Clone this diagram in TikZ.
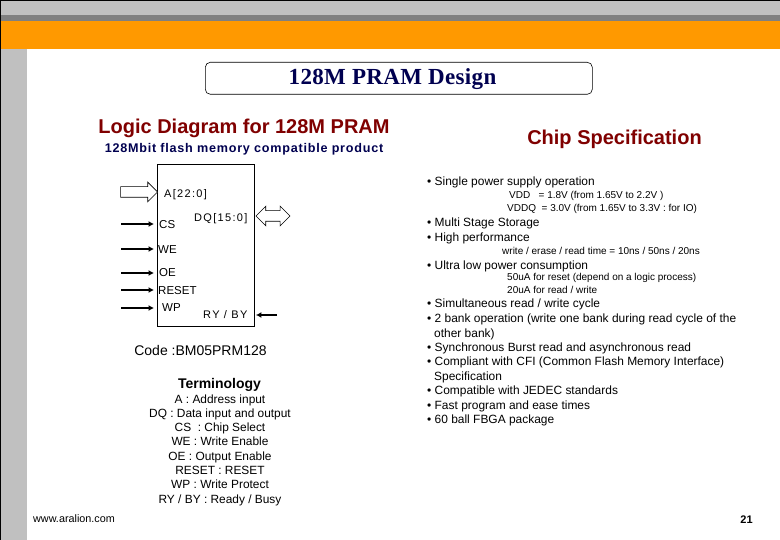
\documentclass[tikz,border=0pt]{standalone}
\usepackage{fontspec}
\setmainfont{Liberation Sans}
\newfontfamily\titlefont[LetterSpace=1.5]{Liberation Serif}
\newfontfamily\pinfont[LetterSpace=12]{Liberation Sans}
\newfontfamily\subfont[LetterSpace=6]{Liberation Sans}
\usetikzlibrary{arrows.meta,shapes.arrows}
\definecolor{bandgray}{HTML}{C0C0C0}
\definecolor{darkband}{HTML}{808080}
\definecolor{bandorange}{HTML}{FF9900}
\definecolor{headred}{HTML}{800000}
\definecolor{headnavy}{HTML}{000050}
\newcommand{\fs}[1]{\fontsize{#1}{#1}\selectfont}
\tikzset{
	pin/.style={inner sep=0pt,anchor=base west,font=\pinfont\fs{11}},
	ctlpin/.style={inner sep=0pt,anchor=base west,font=\fs{11.5}},
	sigarrow/.style={line width=1.4pt,-{Latex[length=5.5pt,width=6pt]}},
	hollowarrow/.style={draw,fill=white,line width=0.6pt,inner xsep=0pt,inner ysep=5pt},
	bigline/.style={inner sep=0pt,anchor=base west,yshift=-0.7pt,font=\fs{11.95}},
	smallline/.style={inner sep=0pt,anchor=base west,font=\fs{10}},
	termline/.style={inner sep=0pt,anchor=base,font=\fs{11.9}},
	heading/.style={inner sep=0pt,anchor=base,text=headred,font=\bfseries\fs{20}}
}
\begin{document}
\begin{tikzpicture}[x=1pt,y=-1pt]
	\useasboundingbox (0,0) rectangle (780,540);
	% slide frame
	\fill[white] (0,0) rectangle (780,540);
	\fill[bandgray] (0,0) rectangle (780,15);
	\fill[darkband] (0,15) rectangle (780,21);
	\fill[bandorange] (0,21) rectangle (780,49);
	\fill[bandgray] (0,49) rectangle (27,540);
	\fill[black] (0,0) rectangle (780,1);
	\fill[black] (0,0) rectangle (1,540);
	% title
	\node[draw,rounded corners=5pt,line width=0.6pt,minimum width=387pt,minimum height=32pt,anchor=north west] (titlebox) at (205,62) {};
	\node[inner sep=0pt,anchor=base,text=headnavy,font=\titlefont\bfseries\fs{23}] (title) at (392.5,85) {128M PRAM Design};
	% headings
	\node[heading] (logichead) at (244,134) {Logic Diagram for 128M PRAM};
	\node[inner sep=0pt,anchor=base,text=headnavy,font=\subfont\bfseries\fs{12.6}] (logicsub) at (244,153) {128Mbit flash memory compatible product};
	\node[heading] (spechead) at (614.5,144.5) {Chip Specification};
	% chip
	\node[draw,line width=0.9pt,minimum width=97pt,minimum height=162pt,anchor=north west] (chip) at (157,164) {};
	\node[pin] (pina) at (164,198) {A[22:0]};
	\node[pin] (pindq) at (194,222) {DQ[15:0]};
	\node[ctlpin] (pincs) at (159,229) {CS};
	\node[ctlpin] (pinwe) at (158,254) {WE};
	\node[ctlpin] (pinoe) at (159,277) {OE};
	\node[ctlpin] (pinreset) at (158,295) {RESET};
	\node[ctlpin] (pinwp) at (162,312) {WP};
	\node[pin] (pinry) at (203,319) {RY / BY};
	% bus arrows
	\node[single arrow,hollowarrow,single arrow head extend=4.5pt,minimum height=37pt,anchor=east] (busa) at (158,192) {};
	\node[double arrow,hollowarrow,double arrow head extend=4.5pt,minimum height=34pt,anchor=west] (busdq) at (255.5,216) {};
	% signal arrows
	\coordinate (csin) at (121,224);
	\coordinate (wein) at (121,249);
	\coordinate (oein) at (121,273);
	\coordinate (resetin) at (121,290);
	\coordinate (wpin) at (121,308);
	\coordinate (ryin) at (277,315);
	\draw[sigarrow] (csin) -- ([xshift=-3pt]chip.west |- csin);
	\draw[sigarrow] (wein) -- ([xshift=-3pt]chip.west |- wein);
	\draw[sigarrow] (oein) -- ([xshift=-3pt]chip.west |- oein);
	\draw[sigarrow] (resetin) -- ([xshift=-3pt]chip.west |- resetin);
	\draw[sigarrow] (wpin) -- ([xshift=-3pt]chip.west |- wpin);
	\draw[sigarrow] (ryin) -- ([xshift=1pt]chip.east |- ryin);
	% code and terminology
	\node[termline,font=\fs{14}] (code) at (200.5,355.5) {Code :BM05PRM128};
	\node[termline,font=\bfseries\fs{14}] (termhead) at (219.5,388.5) {Terminology};
	\node[termline] (terma) at (220,403.5) {A : Address input};
	\node[termline] (termdq) at (220,417.5) {DQ : Data input and output};
	\node[termline] (termcs) at (220,431.5) {CS\ \ : Chip Select};
	\node[termline] (termwe) at (220,445.5) {WE : Write Enable};
	\node[termline] (termoe) at (220,460.5) {OE : Output Enable};
	\node[termline] (termreset) at (220,474.5) {RESET : RESET};
	\node[termline] (termwp) at (220,488.5) {WP : Write Protect};
	\node[termline] (termry) at (220,503.5) {RY / BY : Ready / Busy};
	% specification list
	\node[bigline] (spa) at (427,185) {• Single power supply operation};
	\node[smallline] (spb) at (509,199) {VDD\ \ \ = 1.8V (from 1.65V to 2.2V )};
	\node[smallline] (spc) at (507,212) {VDDQ\ \ = 3.0V (from 1.65V to 3.3V : for IO)};
	\node[bigline] (spd) at (427,226) {• Multi Stage Storage};
	\node[bigline] (spe) at (427,241) {• High performance};
	\node[smallline] (spf) at (502,255) {write / erase / read time = 10ns / 50ns / 20ns};
	\node[bigline] (spg) at (427,269) {• Ultra low power consumption};
	\node[smallline] (sph) at (507,281) {50uA for reset (depend on a logic process)};
	\node[smallline] (spi) at (507,294) {20uA for read / write};
	\node[bigline] (spj) at (427,307) {• Simultaneous read / write cycle};
	\node[bigline] (spk) at (427,322) {• 2 bank operation (write one bank during read cycle of the};
	\node[bigline] (spl) at (434,337) {other bank)};
	\node[bigline] (spm) at (427,351) {• Synchronous Burst read and asynchronous read};
	\node[bigline] (spn) at (427,365) {• Compliant with CFI (Common Flash Memory Interface)};
	\node[bigline] (spo) at (434,380) {Specification};
	\node[bigline] (spp) at (427,394) {• Compatible with JEDEC standards};
	\node[bigline] (spq) at (427,409) {• Fast program and ease times};
	\node[bigline] (spr) at (427,423) {• 60 ball FBGA package};
	% footer
	\node[smallline,font=\fs{10.8}] (site) at (33,522) {www.aralion.com};
	\node[inner sep=0pt,anchor=base,font=\bfseries\fs{11}] (pageno) at (746.5,523) {21};
\end{tikzpicture}
\end{document}
